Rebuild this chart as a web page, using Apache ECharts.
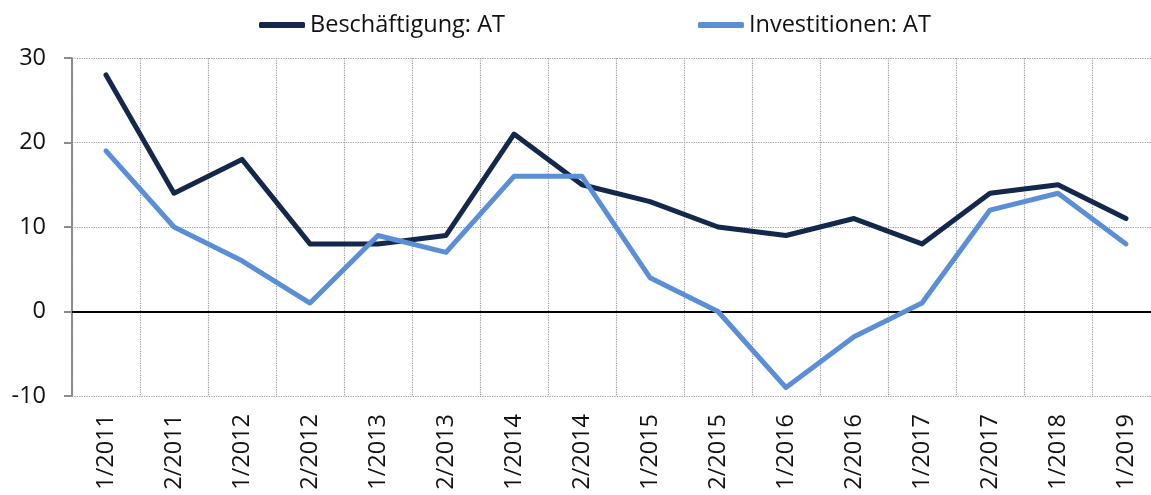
<!DOCTYPE html>
<html>
<head>
<meta charset="utf-8">
<script src="https://cdn.jsdelivr.net/npm/echarts@6/dist/echarts.min.js"></script>
<style>
  html, body { margin: 0; padding: 0; background: #fff; }
  #chart { width: 1151px; height: 495px; }
</style>
</head>
<body>
<div id="chart"></div>
<script>
  var periods = ['1/2011', '2/2011', '1/2012', '2/2012', '1/2013', '2/2013', '1/2014', '2/2014',
    '1/2015', '2/2015', '1/2016', '2/2016', '1/2017', '2/2017', '1/2018', '1/2019'];
  var beschaeftigung = [28, 14, 18, 8, 8, 9, 21, 15, 13, 10, 9, 11, 8, 14, 15, 11];
  var investitionen = [19, 10, 6, 1, 9, 7, 16, 16, 4, 0, -9, -3, 1, 12, 14, 8];

  var font = '"Open Sans", "Noto Sans", sans-serif';
  var chart = echarts.init(document.getElementById('chart'));

  chart.setOption({
    animation: false,
    legend: {
      left: 254,
      top: 8,
      itemGap: 193,
      itemWidth: 46,
      itemHeight: 6,
      icon: 'roundRect',
      textStyle: { fontFamily: font, fontSize: 23.5, color: '#111' },
      data: ['Beschäftigung: AT', 'Investitionen: AT']
    },
    // plot runs a little past the right edge, as in the original
    grid: { left: 72, top: 58, bottom: 99, width: 1088, containLabel: false, outerBoundsMode: 'none' },
    xAxis: {
      type: 'category',
      data: periods,
      boundaryGap: true,
      axisLine: { show: false },
      axisTick: { show: false },
      axisLabel: {
        rotate: 90,
        margin: 18,
        fontFamily: font,
        fontSize: 23.5,
        color: '#111',
        interval: 0
      },
      splitLine: {
        show: true,
        interval: 0,
        lineStyle: { type: 'dotted', color: '#9a9a9a', width: 1.2 }
      }
    },
    yAxis: {
      type: 'value',
      min: -10,
      max: 30,
      interval: 10,
      axisLine: { show: true, lineStyle: { color: '#8c8c8c', width: 2 } },
      axisTick: { show: true, length: 8, lineStyle: { color: '#8c8c8c', width: 2 } },
      axisLabel: { margin: 26, fontFamily: font, fontSize: 23.5, color: '#111' },
      splitLine: { lineStyle: { type: 'dotted', color: '#9a9a9a', width: 1.2 } }
    },
    series: [
      {
        name: 'Beschäftigung: AT',
        type: 'line',
        data: beschaeftigung,
        symbol: 'none',
        color: '#13284a',
        lineStyle: { width: 5, color: '#13284a', cap: 'round', join: 'round' },
        z: 3,
        markLine: {
          silent: true,
          symbol: 'none',
          label: { show: false },
          lineStyle: { type: 'solid', color: '#000', width: 2 },
          data: [{ yAxis: 0 }],
          z: 1
        }
      },
      {
        name: 'Investitionen: AT',
        type: 'line',
        data: investitionen,
        symbol: 'none',
        color: '#5a8fd8',
        lineStyle: { width: 5, color: '#5a8fd8', cap: 'round', join: 'round' },
        z: 4
      }
    ]
  });
</script>
</body>
</html>
